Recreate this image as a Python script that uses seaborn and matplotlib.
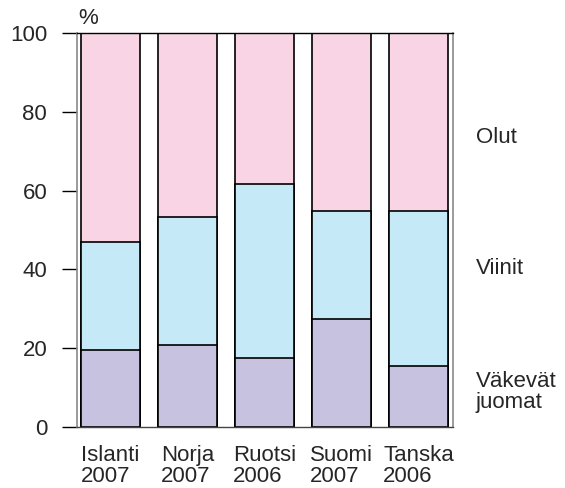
import pandas as pd
import numpy as np
import matplotlib
matplotlib.use('Agg')
import matplotlib.pyplot as plt
import seaborn as sns

# Data (% shares of alcohol consumption)
maat = ['Islanti\n2007', 'Norja\n2007', 'Ruotsi\n2006', 'Suomi\n2007', 'Tanska\n2006']
vakevat = [19.5, 20.8, 17.5, 27.3, 15.4]
viinit = [27.4, 32.6, 44.3, 27.6, 39.5]
olut = [53.1, 46.6, 38.2, 45.1, 45.1]
y_ticks = [0, 20, 40, 60, 80, 100]

c_olut = '#f8d4e4'
c_viinit = '#c6e9f8'
c_vakevat = '#c6c2e0'

df = pd.DataFrame({'maa': maat, 'vakevat': vakevat, 'viinit': viinit, 'olut': olut})
df['v2'] = df['vakevat'] + df['viinit']
df['v3'] = df['v2'] + df['olut']

sns.set_style('white')
plt.rcParams['font.family'] = ['Liberation Sans', 'DejaVu Sans']
fs = 16

fig = plt.figure(figsize=(5.65, 4.88), dpi=100)
ax = fig.add_axes([0.1363, 0.1256, 0.6655, 0.8062])

# stacked bars by overlapping cumulative totals
for col, color in [('v3', c_olut), ('v2', c_viinit), ('vakevat', c_vakevat)]:
    sns.barplot(data=df, x='maa', y=col, color=color, width=0.766,
                edgecolor='black', linewidth=1.2, saturation=1, ax=ax)

ax.set_xlim(-0.435, 4.448)
ax.set_ylim(0, 100)
ax.set_yticks(y_ticks)
ax.set_xlabel('')
ax.set_ylabel('')
ax.tick_params(axis='y', length=11, width=1, color='black', pad=10.5, labelsize=fs, left=True)
ax.tick_params(axis='x', length=0, pad=13, labelsize=fs)
for lab in ax.get_xticklabels():
    lab.set_multialignment('left')
    lab.set_linespacing(1.0)

for s in ['left', 'right']:
    ax.spines[s].set_color('#8a8a8a')
    ax.spines[s].set_linewidth(1.2)
ax.spines['top'].set_color('black')
ax.spines['bottom'].set_color('#444444')
ax.spines['top'].set_linewidth(1.0)
ax.spines['bottom'].set_linewidth(1.0)

ax.text(0.003, 1.012, '%', transform=ax.transAxes, fontsize=fs, ha='left', va='bottom')

trans = ax.get_yaxis_transform()
ax.text(1.061, 73.4, 'Olut', transform=trans, fontsize=fs, va='center', ha='left')
ax.text(1.061, 40.3, 'Viinit', transform=trans, fontsize=fs, va='center', ha='left')
ax.text(1.061, 8.8, 'Väkevät\njuomat', transform=trans, fontsize=fs, va='center', ha='left',
        linespacing=0.95)

fig.savefig('out.png', dpi=100)
